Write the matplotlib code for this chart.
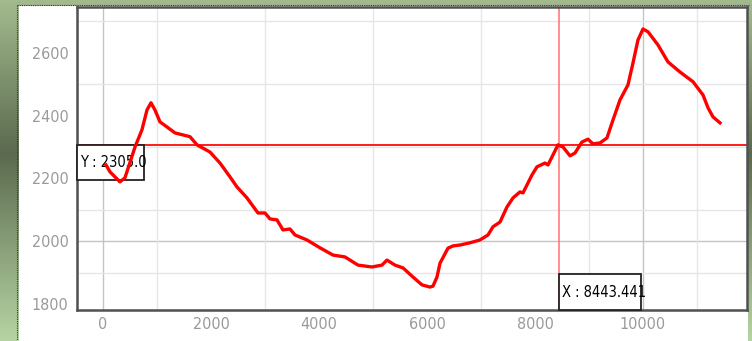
import numpy as np
import matplotlib
matplotlib.use("Agg")
import matplotlib.pyplot as plt
from matplotlib.patches import Rectangle
from matplotlib.colors import LinearSegmentedColormap
from matplotlib import font_manager

# ---- data ----
dist = [56, 130, 315, 407, 593, 722, 815, 889, 963, 1056, 1185, 1333, 1611, 1741,
        1982, 2167, 2352, 2481, 2667, 2870, 3000, 3093, 3222, 3333, 3463, 3556,
        3778, 4019, 4259, 4481, 4722, 4981, 5167, 5259, 5407, 5556, 5741, 5907,
        6056, 6111, 6185, 6241, 6389, 6481, 6611, 6796, 6981, 7130, 7222, 7352,
        7481, 7593, 7722, 7778, 7944, 8037, 8185, 8241, 8426, 8519, 8648, 8741,
        8870, 8981, 9074, 9204, 9333, 9444, 9574, 9722, 9815, 9907, 10000, 10093,
        10278, 10463, 10685, 10926, 11111, 11204, 11296, 11426]
elev = [2243, 2221, 2189, 2202, 2300, 2355, 2418, 2441, 2418, 2380, 2364, 2345, 2333, 2307,
        2284, 2249, 2205, 2173, 2138, 2090, 2090, 2071, 2068, 2036, 2039, 2020,
        2004, 1979, 1956, 1950, 1924, 1918, 1924, 1940, 1924, 1915, 1886, 1861,
        1854, 1857, 1886, 1930, 1978, 1985, 1988, 1995, 2004, 2020, 2046, 2061,
        2109, 2138, 2157, 2154, 2211, 2237, 2249, 2243, 2307, 2300, 2272, 2281,
        2316, 2325, 2310, 2313, 2329, 2386, 2450, 2498, 2568, 2641, 2676, 2667,
        2625, 2571, 2539, 2508, 2466, 2425, 2396, 2377]
cross_x = 8443.441
cross_y = 2305.0
xticks = [0, 2000, 4000, 6000, 8000, 10000]
yticks = [1800, 2000, 2200, 2400, 2600]

# pick a narrow font if available
names = {f.name for f in font_manager.fontManager.ttflist}
if "Liberation Sans Narrow" in names:
    FAM = ["Liberation Sans Narrow", "DejaVu Sans"]
    STRETCH = "normal"
else:
    FAM = ["DejaVu Sans"]
    STRETCH = "condensed"

W, H = 752, 341
fig = plt.figure(figsize=(W / 100, H / 100), dpi=100)

# ---- background frame (green gradient + white panel) ----
bg = fig.add_axes([0, 0, 1, 1], zorder=-10)
cmap = LinearSegmentedColormap.from_list(
    "g", [(0, "#a3ba8e"), (0.45, "#5b6a4f"), (1.0, "#b6d4a3")])
grad = np.linspace(0, 1, 256).reshape(-1, 1)
bg.imshow(grad, cmap=cmap, aspect="auto", extent=[0, W, H, 0])
bg.add_patch(Rectangle((19, 6), 729, 340, facecolor="white", edgecolor="none"))
bg.plot([17, 17], [5, H], color="#2f3a28", lw=0.8, ls=(0, (1, 1)))
bg.plot([17, 749], [5, 5], color="#2f3a28", lw=0.8, ls=(0, (1, 1)))
bg.set_xlim(0, W)
bg.set_ylim(H, 0)
bg.axis("off")

# ---- main axes ----
L, R, T, B = 77, 747, 7, 310
ax = fig.add_axes([L / W, 1 - B / H, (R - L) / W, (B - T) / H])
ax.set_xlim(-481, 11926)
ax.set_ylim(1781, 2746)

ax.set_xticks(np.arange(0, 12000, 1000), minor=True)
ax.set_yticks(np.arange(1800, 2800, 100), minor=True)
ax.grid(which="minor", color="#e6e6e6", lw=1.0, zorder=0)
for v in (0, 10000):
    ax.axvline(v, color="#c4c4c4", lw=1.0, zorder=0.5)
ax.axhline(2000, color="#c4c4c4", lw=1.0, zorder=0.5)

ax.set_xticks(xticks)
ax.set_yticks(yticks)
ax.set_xticklabels([str(v) for v in xticks])
ax.set_yticklabels([str(v) for v in yticks])
ax.tick_params(which="both", length=0)
ax.tick_params(axis="y", pad=6)
ax.tick_params(axis="x", pad=5)
for lab in ax.get_xticklabels() + ax.get_yticklabels():
    lab.set_family(FAM)
    lab.set_stretch(STRETCH)
    lab.set_fontsize(11.5)
    lab.set_color("#9a9a9a")

for s in ax.spines.values():
    s.set_color("#505050")
    s.set_linewidth(1.8)

# crosshair
ax.axhline(cross_y, color="#ff1a1a", lw=1.4, zorder=2)
ax.axvline(cross_x, color="#ff7070", lw=1.1, zorder=2)

# label boxes
xr = ax.get_xlim()[1] - ax.get_xlim()[0]
yr = ax.get_ylim()[1] - ax.get_ylim()[0]
px_x = xr / (R - L)
px_y = yr / (B - T)
x0 = ax.get_xlim()[0]
y0 = ax.get_ylim()[0]
ybox_w, ybox_h = 67 * px_x, 35 * px_y
ax.add_patch(Rectangle((x0, cross_y - ybox_h), ybox_w, ybox_h, facecolor="white",
                       edgecolor="#222222", lw=1.3, zorder=3, clip_on=False))
ax.text(x0 + 3 * px_x, cross_y - ybox_h / 2, f"Y : {cross_y:.1f}", ha="left", va="center",
        fontsize=10.5, color="black", family=FAM, fontstretch=STRETCH, zorder=4)
xbox_w, xbox_h = 82 * px_x, 36 * px_y
ax.add_patch(Rectangle((cross_x, y0), xbox_w, xbox_h, facecolor="white",
                       edgecolor="#222222", lw=1.3, zorder=3, clip_on=False))
ax.text(cross_x + 3 * px_x, y0 + xbox_h / 2, f"X : {cross_x:.3f}", ha="left", va="center",
        fontsize=10.5, color="black", family=FAM, fontstretch=STRETCH, zorder=4)

# elevation curve
ax.plot(dist, elev, color="#ff0000", lw=2.4, solid_joinstyle="round", zorder=5)

fig.savefig("out.png", dpi=100)
